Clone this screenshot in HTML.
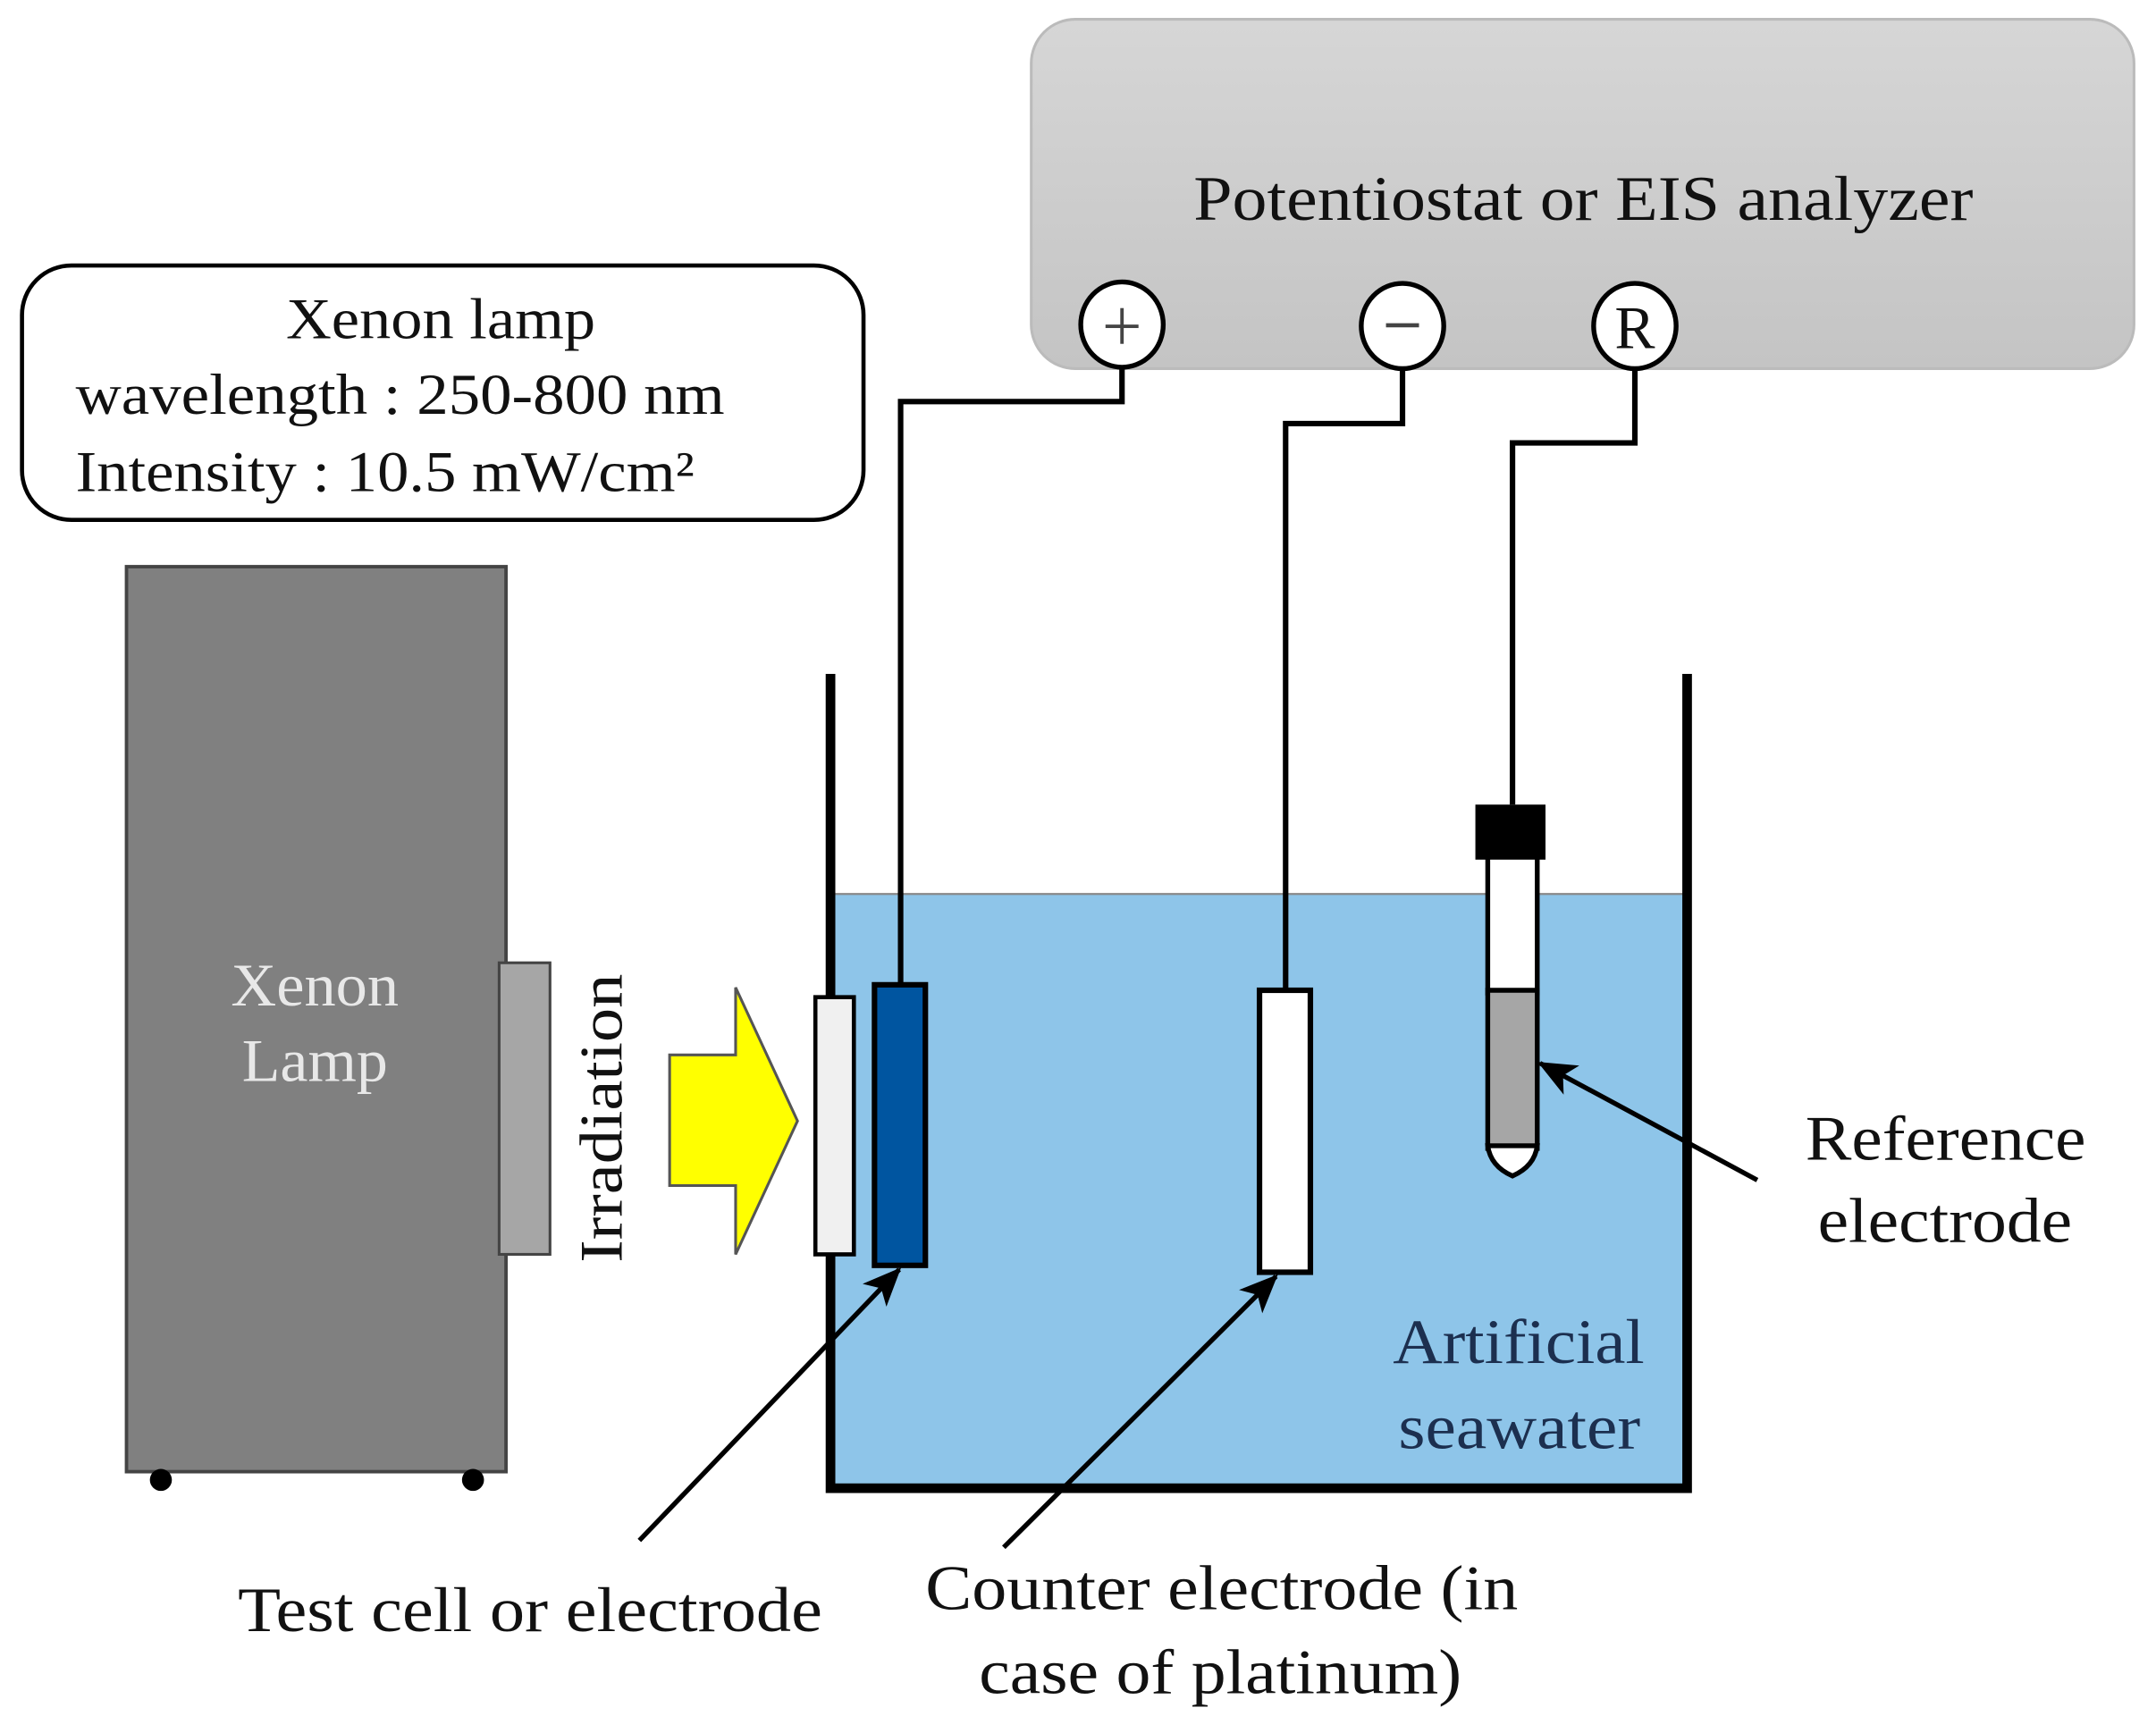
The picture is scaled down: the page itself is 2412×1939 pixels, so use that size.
<!DOCTYPE html>
<html><head><meta charset="utf-8"><style>
html,body{margin:0;padding:0;background:#fff;}
svg{display:block;}
text{font-family:"Liberation Serif",serif;}
</style></head><body>
<svg width="2412" height="1939" viewBox="0 0 1568 1260" preserveAspectRatio="none" xmlns="http://www.w3.org/2000/svg">
<defs>
<linearGradient id="g" x1="0" y1="0" x2="0" y2="1"><stop offset="0" stop-color="#d6d6d6"/><stop offset="1" stop-color="#c4c4c4"/></linearGradient>
<marker id="ah" markerWidth="30" markerHeight="30" refX="26" refY="12" orient="auto" markerUnits="userSpaceOnUse" viewBox="0 0 30 24"><path d="M0,0 L28,12 L0,24 L7,12 Z" fill="#000"/></marker>
</defs>
<rect width="1568" height="1260" fill="#fff"/>
<!-- potentiostat -->
<rect x="750" y="14" width="802" height="254" rx="32" fill="url(#g)" stroke="#bbb" stroke-width="2"/>
<text x="868" y="160" font-size="46" textLength="567" lengthAdjust="spacingAndGlyphs" fill="#111">Potentiostat or EIS analyzer</text>
<!-- info box -->
<rect x="16" y="193" width="612" height="185" rx="36" fill="#fff" stroke="#000" stroke-width="3"/>
<text x="208" y="246" font-size="42" textLength="225" lengthAdjust="spacingAndGlyphs" fill="#111">Xenon lamp</text>
<text x="55" y="301" font-size="42" textLength="472" lengthAdjust="spacingAndGlyphs" fill="#111">wavelength : 250-800 nm</text>
<text x="55" y="357" font-size="42" textLength="450" lengthAdjust="spacingAndGlyphs" fill="#111">Intensity : 10.5 mW/cm²</text>
<!-- lamp -->
<rect x="92" y="412" width="276" height="658" fill="#808080" stroke="#444" stroke-width="2.5"/>
<circle cx="117" cy="1076" r="8" fill="#000"/>
<circle cx="344" cy="1076" r="8" fill="#000"/>
<text x="168" y="731" font-size="44" textLength="122" lengthAdjust="spacingAndGlyphs" fill="#e8e8e8">Xenon</text>
<text x="176" y="786" font-size="44" textLength="106" lengthAdjust="spacingAndGlyphs" fill="#e8e8e8">Lamp</text>
<rect x="363" y="700" width="37" height="212" fill="#a6a6a6" stroke="#444" stroke-width="2"/>
<text transform="translate(452,918) rotate(-90)" font-size="44" textLength="210" lengthAdjust="spacingAndGlyphs" fill="#111">Irradiation</text>
<path d="M487,767 L535,767 L535,718 L580,815 L535,912 L535,862 L487,862 Z" fill="#ffff00" stroke="#555" stroke-width="2"/>
<!-- water -->
<rect x="604" y="650" width="623" height="432" fill="#8ec5e9"/>
<line x1="604" y1="650" x2="1227" y2="650" stroke="#888" stroke-width="1.5"/>
<polyline points="604,490 604,1082 1227,1082 1227,490" fill="none" stroke="#000" stroke-width="7"/>
<!-- wires -->
<g fill="none" stroke="#000" stroke-width="4">
<polyline points="816,266 816,292 655,292 655,716"/>
<polyline points="1020,266 1020,308 935,308 935,720"/>
<polyline points="1189,266 1189,322 1100,322 1100,585"/>
</g>
<g stroke="#000" stroke-width="3.5" fill="#fff">
<ellipse cx="816" cy="236" rx="30" ry="31"/>
<ellipse cx="1020" cy="237" rx="30" ry="31"/>
<ellipse cx="1189" cy="237" rx="30" ry="31"/>
</g>
<rect x="804" y="236" width="24" height="2.5" fill="#444"/>
<rect x="814.75" y="224" width="2.5" height="26" fill="#444"/>
<rect x="1008" y="235" width="24" height="3" fill="#444"/>
<text x="1189" y="253" font-size="44" text-anchor="middle" fill="#111">R</text>
<rect x="593" y="725" width="28" height="187" fill="#f0f0f0" stroke="#000" stroke-width="3"/>
<rect x="636" y="716" width="37" height="204" fill="#0055a0" stroke="#000" stroke-width="4"/>
<rect x="916" y="720" width="37" height="205" fill="#fff" stroke="#000" stroke-width="4"/>
<!-- reference electrode -->
<rect x="1082" y="622" width="36" height="100" fill="#fff" stroke="#000" stroke-width="3.5"/>
<path d="M1082,720 L1118,720 L1118,835 L1082,835 Z" fill="#a6a6a6" stroke="#000" stroke-width="3.5"/>
<path d="M1082,833 L1118,833 Q1116,848 1100,855 Q1084,848 1082,833 Z" fill="#fff" stroke="#000" stroke-width="3.5"/>
<rect x="1073" y="585" width="51" height="40" fill="#000"/>
<!-- arrows -->
<g stroke="#000" stroke-width="3.5" marker-end="url(#ah)">
<line x1="1278" y1="858" x2="1120" y2="773"/>
<line x1="465" y1="1120" x2="654" y2="923"/>
<line x1="730" y1="1125" x2="928" y2="928"/>
</g>
<g font-size="46" fill="#111" lengthAdjust="spacingAndGlyphs">
<text x="1313" y="843" textLength="204" lengthAdjust="spacingAndGlyphs">Reference</text>
<text x="1322" y="903" textLength="185" lengthAdjust="spacingAndGlyphs">electrode</text>
<text x="1013" y="991" textLength="183" lengthAdjust="spacingAndGlyphs" fill="#1c2f4f">Artificial</text>
<text x="1017" y="1053" textLength="176" lengthAdjust="spacingAndGlyphs" fill="#1c2f4f">seawater</text>
<text x="173" y="1186" textLength="425" lengthAdjust="spacingAndGlyphs">Test cell or electrode</text>
<text x="673" y="1170" textLength="431" lengthAdjust="spacingAndGlyphs">Counter electrode (in</text>
<text x="712" y="1231" textLength="351" lengthAdjust="spacingAndGlyphs">case of platinum)</text>
</g>
</svg>
</body></html>
